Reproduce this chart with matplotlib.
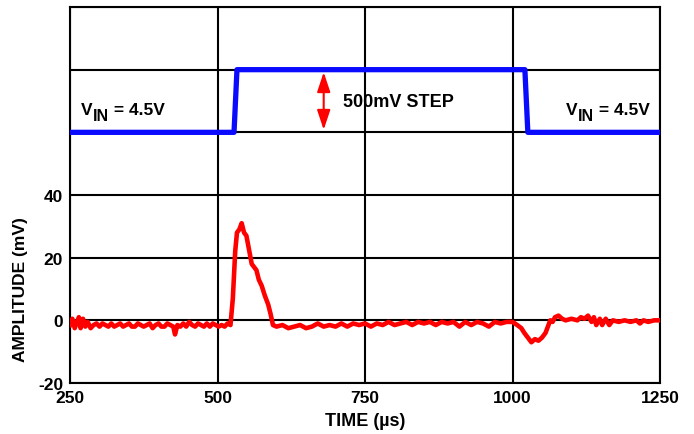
import matplotlib
matplotlib.use("Agg")
import matplotlib.pyplot as plt

plt.rcParams['font.family'] = ['Liberation Sans', 'DejaVu Sans']
plt.rcParams['font.weight'] = 'bold'

# Input step (drawn on the same scale, offset: 60 = 4.5V, 80 = 5.0V)
step_t = [250, 528, 533, 1021, 1026, 1250]
step_v = [60, 60, 80, 80, 60, 60]

# Output response (mV)
resp_t = [250, 254, 258, 262, 265, 268, 272, 276, 280, 285, 290, 295, 300, 305, 310, 315, 320,
          325, 330, 335, 340, 345, 350, 355, 360, 365, 370, 375, 380, 385, 390, 395, 400, 405,
          410, 415, 420, 425, 428, 432, 437, 442, 447, 452, 457, 462, 467, 472, 477, 482, 487,
          492, 497, 502, 507, 512, 517, 522, 526, 530, 533, 537, 541, 545, 549, 553, 558, 562,
          566, 570, 575, 580, 586, 590, 594, 600, 610, 620, 630, 640, 650, 660, 670, 680,
          690, 700, 710, 720, 730, 740, 750, 760, 770, 780, 790, 800, 810, 820, 830,
          840, 850, 860, 870, 880, 890, 900, 910, 920, 930, 940, 950, 960, 970, 980,
          990, 1000, 1008, 1015, 1020, 1026, 1032, 1038, 1044, 1050, 1056, 1060, 1064,
          1068, 1072, 1078, 1084, 1090, 1100, 1110, 1116, 1122, 1128, 1134, 1138, 1142,
          1148, 1152, 1158, 1164, 1170, 1180, 1190, 1200, 1210, 1216, 1222, 1230, 1240, 1250]
resp_v = [-1.5, 0.5, -2.5, -0.5, 1.0, -2.5, 0.5, -2.0, -0.5, -2.5, -1.5, -1.0, -2.0, -1.0, -1.5, -2.0, -1.0,
          -2.0, -1.5, -1.0, -2.0, -1.5, -1.0, -2.0, -2.0, -1.0, -1.5, -2.0, -1.5, -1.0, -2.5, -1.5, -1.0, -2.0,
          -2.0, -1.0, -1.5, -2.0, -4.5, -1.5, -2.0, -1.0, -2.0, -0.5, -1.5, -2.0, -1.0, -1.5, -2.0, -1.0, -2.0,
          -1.0, -1.5, -2.0, -1.5, -2.0, -1.0, -1.5, 7, 22, 28, 29, 31, 28, 27, 23, 18, 17,
          16, 13, 11, 8, 5, 2, -1.5, -2.0, -1.5, -2.5, -2.0, -1.5, -2.5, -2.0, -1.0, -2.0,
          -1.5, -2.0, -1.0, -2.0, -1.0, -1.5, -1.0, -2.0, -1.0, -1.5, -0.5, -1.5, -1.0, -0.5, -1.5,
          -0.5, -1.0, -0.5, -1.5, -0.5, -1.0, -0.5, -2.0, -0.5, -1.5, -0.5, -1.0, -2.0, -0.5, -1.0,
          -0.5, -0.5, -1.5, -2.5, -4.0, -5.5, -7.0, -6.0, -6.5, -5.5, -4.0, -2.0, 0.0,
          -0.5, 1.0, 1.5, 0.5, 0.0, 0.5, 0.0, 1.0, 0.5, 1.5, -0.5, 1.0, -1.5,
          0.5, -1.5, 0.5, -1.5, 0.0, -0.5, 0.0, -0.5, 0.0, -1.0, 0.0, -0.5, 0.0, 0.0]

x_ticks = [250, 500, 750, 1000, 1250]
y_grid = [-20, 0, 20, 40, 60, 80, 100]
y_labels = ['-20', '0', '20', '40', '', '', '']

FS = 12.5

fig = plt.figure(figsize=(6.94, 4.35), dpi=100)
ax = fig.add_axes([70/694, 1-384/435, 590/694, 376/435])
ax.set_xlim(250, 1250)
ax.set_ylim(-20, 100)
ax.set_xticks(x_ticks)
ax.set_xticklabels([str(v) for v in x_ticks], fontsize=FS, fontweight='bold')
ax.set_yticks(y_grid)
ax.set_yticklabels(y_labels, fontsize=FS, fontweight='bold')
ax.tick_params(length=0, pad=5)
ax.grid(True, color='black', linewidth=1.5)
for s in ax.spines.values():
    s.set_linewidth(1.5)
    s.set_color('black')

ax.plot(step_t, step_v, color='#0a0aff', linewidth=3.8, solid_capstyle='butt', zorder=3)
ax.plot(resp_t, resp_v, color='#ff0000', linewidth=3.3, solid_joinstyle='round', zorder=3)

renderer = fig.canvas.get_renderer()
PX2PT = 72.0 / fig.dpi


def vin_label(x, y, align):
    parts = [('V', FS, 0), ('IN', FS * 0.92, -5.0), (' = 4.5V', FS, 0)]
    widths = []
    for s, fs, _ in parts:
        t = ax.text(0, 0, s, fontsize=fs, fontweight='bold')
        widths.append(t.get_window_extent(renderer).width * PX2PT)
        t.remove()
    total = sum(widths)
    off = 0.0 if align == 'left' else -total
    for (s, fs, dy), w in zip(parts, widths):
        ax.annotate(s, xy=(x, y), xycoords='data', xytext=(off, dy),
                    textcoords='offset points', fontsize=fs, fontweight='bold',
                    ha='left', va='baseline')
        off += w


vin_label(269, 66.0, 'left')
vin_label(1233, 66.0, 'right')
ax.text(713, 68.4, '500mV STEP', fontsize=13, fontweight='bold', va='baseline', ha='left')
ax.annotate('', xy=(680, 79.2), xytext=(680, 60.8),
            arrowprops=dict(arrowstyle='<|-|>,head_length=0.6,head_width=0.2', color='#ff0000',
                            lw=1.5, mutation_scale=20, shrinkA=0, shrinkB=0), zorder=4)

ax.set_xlabel('TIME (µs)', fontsize=13, fontweight='bold', labelpad=5)
ax.set_ylabel('AMPLITUDE (mV)', fontsize=12.5, fontweight='bold')
ax.yaxis.set_label_coords(-0.072, 0.25)

fig.savefig('out.png', dpi=100)
